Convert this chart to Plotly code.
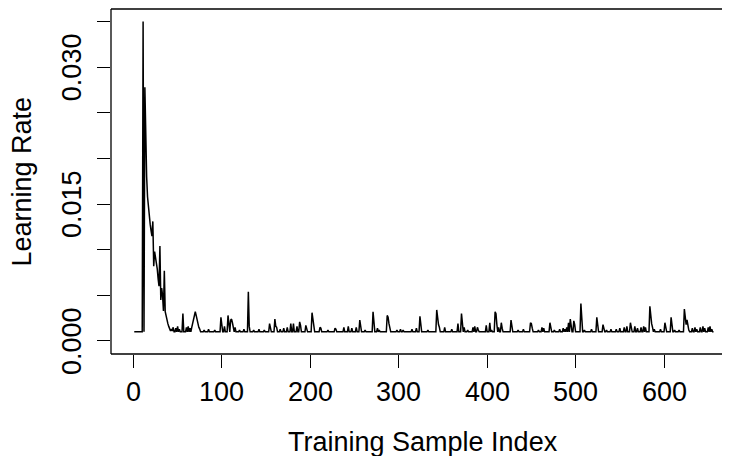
import plotly.graph_objects as go

# ---- data ----
N_SAMPLES = 656
BASE_LR = 0.001

# indices 1..45 (start-up phase)
early_lr = [0.001, 0.001, 0.001, 0.001, 0.001, 0.001, 0.001, 0.001, 0.001, 0.001,
            0.035, 0.001, 0.0278, 0.0215, 0.0180, 0.0158, 0.0145, 0.0136, 0.0128, 0.0121,
            0.0115, 0.0131, 0.0082, 0.0098, 0.0092, 0.0087, 0.0079, 0.0068, 0.0060, 0.0104,
            0.0045, 0.0058, 0.0050, 0.0033, 0.0077, 0.0032, 0.0026, 0.0023, 0.0019, 0.0016,
            0.0012, 0.0011, 0.0013, 0.0011, 0.0015]

# later spikes above the baseline: sample index -> learning rate
spike_idx = [48, 50, 52, 56, 60, 62, 64,
             66, 67, 68, 69, 70, 71, 72, 73, 74, 75,
             80, 85, 92, 99, 100, 103, 107, 108, 110, 111, 112, 113, 115,
             120, 125, 130, 131, 136, 142, 148, 154, 155, 160, 161, 162,
             166, 170, 174, 178, 181, 185, 188, 189, 195, 196,
             202, 203, 204, 211, 212, 220, 228, 229, 238, 243, 247, 252, 256, 257,
             262, 271, 272, 276, 278, 287, 288, 289, 290, 298, 302, 305, 315, 320,
             324, 325, 333, 343, 344, 345, 346, 352, 360, 367, 371, 372, 374, 378,
             384, 386, 389, 390, 399, 403, 405, 409, 410, 411, 413, 416, 417,
             427, 428, 435, 441, 449, 450, 451, 458, 462, 464, 471, 472, 476,
             482, 486, 488, 490, 492, 494, 495, 498, 499, 506, 507, 510, 518,
             524, 525, 531, 532, 535, 540, 546, 550, 555, 558, 562, 563, 567, 570,
             574, 577, 579, 584, 585, 586, 587, 589, 596, 601, 602, 608, 609,
             612, 617, 623, 624, 625, 626, 627, 628, 632, 635, 637, 641, 644, 646,
             650, 652, 654]
spike_lr = [0.0014, 0.0016, 0.0013, 0.0030, 0.0015, 0.0016, 0.0014,
            0.0015, 0.0019, 0.0025, 0.0030, 0.0032, 0.0028, 0.0022, 0.0018, 0.0015, 0.0013,
            0.0012, 0.0013, 0.0012, 0.0026, 0.0014, 0.0016, 0.0028, 0.0015, 0.0023, 0.0024, 0.0020, 0.0016, 0.0015,
            0.0012, 0.0013, 0.0054, 0.0016, 0.0012, 0.0013, 0.0012, 0.0019, 0.0013, 0.0024, 0.0016, 0.0015,
            0.0013, 0.0014, 0.0015, 0.0019, 0.0019, 0.0016, 0.0021, 0.0017, 0.0017, 0.0014,
            0.0031, 0.0023, 0.0016, 0.0015, 0.0014, 0.0012, 0.0014, 0.0013, 0.0015, 0.0016, 0.0014, 0.0015, 0.0023, 0.0017,
            0.0012, 0.0032, 0.0014, 0.0014, 0.0012, 0.0028, 0.0026, 0.0019, 0.0013, 0.0012, 0.0013, 0.0012, 0.0013, 0.0014,
            0.0027, 0.0013, 0.0012, 0.0034, 0.0023, 0.0018, 0.0015, 0.0015, 0.0013, 0.0019, 0.0030, 0.0018, 0.0015, 0.0012,
            0.0015, 0.0016, 0.0015, 0.0012, 0.0017, 0.0020, 0.0012, 0.0032, 0.0030, 0.0018, 0.0015, 0.0020, 0.0014,
            0.0023, 0.0015, 0.0012, 0.0013, 0.0020, 0.0019, 0.0014, 0.0012, 0.0015, 0.0014, 0.0020, 0.0015, 0.0012,
            0.0013, 0.0014, 0.0013, 0.0015, 0.0020, 0.0024, 0.0015, 0.0022, 0.0018, 0.0041, 0.0015, 0.0012, 0.0013,
            0.0026, 0.0013, 0.0018, 0.0014, 0.0012, 0.0013, 0.0013, 0.0014, 0.0015, 0.0016, 0.0020, 0.0014, 0.0016, 0.0014,
            0.0015, 0.0016, 0.0015, 0.0038, 0.0023, 0.0019, 0.0015, 0.0013, 0.0013, 0.0020, 0.0013, 0.0026, 0.0013,
            0.0012, 0.0012, 0.0035, 0.0024, 0.0018, 0.0023, 0.0016, 0.0012, 0.0014, 0.0015, 0.0013, 0.0015, 0.0016, 0.0014,
            0.0015, 0.0016, 0.0013]

x_ticks = [0, 100, 200, 300, 400, 500, 600]
y_ticks = [0.000, 0.005, 0.010, 0.015, 0.020, 0.025, 0.030, 0.035]
y_labels = {0.000: "0.000", 0.015: "0.015", 0.030: "0.030"}
x_title = "Training Sample Index"
y_title = "Learning Rate"

# ---- assemble series ----
idx = list(range(1, N_SAMPLES + 1))
lr = [BASE_LR] * N_SAMPLES
for i, v in enumerate(early_lr):
    lr[i] = v
for i, v in zip(spike_idx, spike_lr):
    lr[i - 1] = v

FONT = "Liberation Sans, Arial, Helvetica, sans-serif"
FS = 27

# the page body has an 8px margin, so the figure is 8px smaller and shifted
W, H = 722, 448
ML, MT, MB = 103, 1, 102
PW = W - ML

fig = go.Figure()
fig.add_trace(go.Scatter(x=idx, y=lr, mode="lines",
                         line=dict(color="black", width=1.5),
                         hoverinfo="skip", showlegend=False))

annotations = []
for t in x_ticks:
    annotations.append(dict(x=t, xref="x", y=0, yref="paper", yshift=-38,
                            text=str(t), showarrow=False, xanchor="center",
                            yanchor="middle", font=dict(size=FS, family=FONT, color="black")))
for v, s in y_labels.items():
    annotations.append(dict(x=0, xref="paper", xshift=-39, y=v, yref="y",
                            text=s, showarrow=False, textangle=-90, xanchor="center",
                            yanchor="middle", font=dict(size=FS, family=FONT, color="black")))
annotations.append(dict(x=(423 - 8 - ML) / PW, xref="paper", y=0, yref="paper", yshift=-88,
                        text=x_title, showarrow=False, xanchor="center", yanchor="middle",
                        font=dict(size=FS, family=FONT, color="black")))
annotations.append(dict(x=0, xref="paper", xshift=-90, y=0.5, yref="paper",
                        text=y_title, showarrow=False, textangle=-90, xanchor="center",
                        yanchor="middle", font=dict(size=FS, family=FONT, color="black")))

box = dict(color="black", width=1.3)
shapes = [
    dict(type="line", xref="paper", yref="paper", x0=0, x1=0, y0=0, y1=1, line=box),
    dict(type="line", xref="paper", yref="paper", x0=0, x1=1, y0=0, y1=0, line=box),
    dict(type="line", xref="paper", yref="paper", x0=0, x1=1, y0=1, y1=1, line=box),
]

fig.update_layout(
    width=W, height=H,
    margin=dict(l=ML, r=0, t=MT, b=MB, pad=0),
    paper_bgcolor="white", plot_bgcolor="white",
    xaxis=dict(range=[-25.3, 674.6], tickvals=x_ticks, ticks="outside", ticklen=13,
               tickwidth=1.3, tickcolor="black", showticklabels=False,
               showgrid=False, zeroline=False, showline=False),
    yaxis=dict(range=[-0.001425, 0.03637], tickvals=y_ticks, ticks="outside", ticklen=13,
               tickwidth=1.3, tickcolor="black", showticklabels=False,
               showgrid=False, zeroline=False, showline=False),
    annotations=annotations,
    shapes=shapes,
    hovermode=False,
)

fig.write_html("out.html", config={"displayModeBar": False})
